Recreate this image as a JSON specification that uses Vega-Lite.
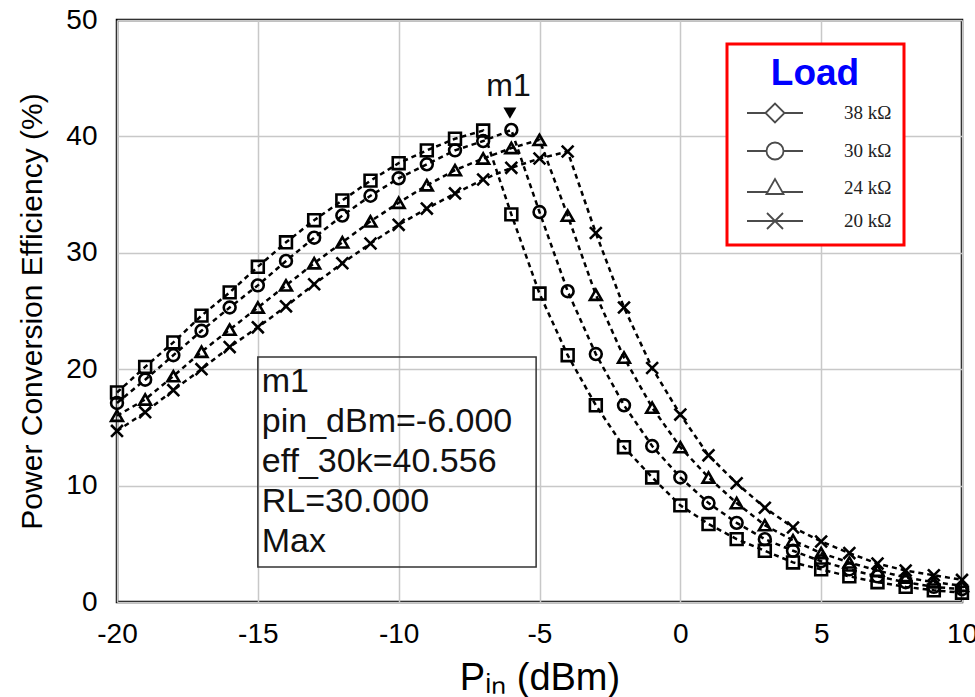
{
  "$schema": "https://vega.github.io/schema/vega-lite/v6.json",
  "autosize": {"type": "none"},
  "padding": {"left": 117, "top": 20, "right": 13, "bottom": 95},
  "width": 845,
  "height": 582,
  "background": "white",
  "config": {
    "view": {"stroke": "black", "strokeWidth": 2.5},
    "axis": {
      "grid": true, "gridColor": "#c8c8c8", "gridWidth": 1.5,
      "domain": false, "ticks": false,
      "labelFont": "Liberation Sans", "labelFontSize": 28, "labelColor": "black",
      "labelFlush": false, "labelOverlap": false,
      "labelExpr": "replace(datum.label, '−', '-')",
      "titleColor": "black", "titleFontWeight": "normal"
    },
    "legend": {"strokeWidth": 3}
  },
  "datasets": {
    "curves": [
      {"pin": -20, "eff": 18.0, "load": "38 kΩ"}, {"pin": -19, "eff": 20.2, "load": "38 kΩ"}, {"pin": -18, "eff": 22.3, "load": "38 kΩ"}, {"pin": -17, "eff": 24.6, "load": "38 kΩ"}, {"pin": -16, "eff": 26.6, "load": "38 kΩ"}, {"pin": -15, "eff": 28.8, "load": "38 kΩ"}, {"pin": -14, "eff": 30.9, "load": "38 kΩ"}, {"pin": -13, "eff": 32.8, "load": "38 kΩ"}, {"pin": -12, "eff": 34.5, "load": "38 kΩ"}, {"pin": -11, "eff": 36.2, "load": "38 kΩ"}, {"pin": -10, "eff": 37.7, "load": "38 kΩ"}, {"pin": -9, "eff": 38.8, "load": "38 kΩ"}, {"pin": -8, "eff": 39.8, "load": "38 kΩ"}, {"pin": -7, "eff": 40.5, "load": "38 kΩ"}, {"pin": -6, "eff": 33.3, "load": "38 kΩ"}, {"pin": -5, "eff": 26.5, "load": "38 kΩ"}, {"pin": -4, "eff": 21.2, "load": "38 kΩ"}, {"pin": -3, "eff": 16.9, "load": "38 kΩ"}, {"pin": -2, "eff": 13.3, "load": "38 kΩ"}, {"pin": -1, "eff": 10.7, "load": "38 kΩ"}, {"pin": 0, "eff": 8.3, "load": "38 kΩ"}, {"pin": 1, "eff": 6.7, "load": "38 kΩ"}, {"pin": 2, "eff": 5.4, "load": "38 kΩ"}, {"pin": 3, "eff": 4.4, "load": "38 kΩ"}, {"pin": 4, "eff": 3.4, "load": "38 kΩ"}, {"pin": 5, "eff": 2.8, "load": "38 kΩ"}, {"pin": 6, "eff": 2.2, "load": "38 kΩ"}, {"pin": 7, "eff": 1.7, "load": "38 kΩ"}, {"pin": 8, "eff": 1.3, "load": "38 kΩ"}, {"pin": 9, "eff": 1.0, "load": "38 kΩ"}, {"pin": 10, "eff": 0.8, "load": "38 kΩ"},
      {"pin": -20, "eff": 17.1, "load": "30 kΩ"}, {"pin": -19, "eff": 19.1, "load": "30 kΩ"}, {"pin": -18, "eff": 21.2, "load": "30 kΩ"}, {"pin": -17, "eff": 23.3, "load": "30 kΩ"}, {"pin": -16, "eff": 25.3, "load": "30 kΩ"}, {"pin": -15, "eff": 27.2, "load": "30 kΩ"}, {"pin": -14, "eff": 29.3, "load": "30 kΩ"}, {"pin": -13, "eff": 31.3, "load": "30 kΩ"}, {"pin": -12, "eff": 33.2, "load": "30 kΩ"}, {"pin": -11, "eff": 34.9, "load": "30 kΩ"}, {"pin": -10, "eff": 36.4, "load": "30 kΩ"}, {"pin": -9, "eff": 37.6, "load": "30 kΩ"}, {"pin": -8, "eff": 38.8, "load": "30 kΩ"}, {"pin": -7, "eff": 39.6, "load": "30 kΩ"}, {"pin": -6, "eff": 40.556, "load": "30 kΩ"}, {"pin": -5, "eff": 33.5, "load": "30 kΩ"}, {"pin": -4, "eff": 26.7, "load": "30 kΩ"}, {"pin": -3, "eff": 21.3, "load": "30 kΩ"}, {"pin": -2, "eff": 16.9, "load": "30 kΩ"}, {"pin": -1, "eff": 13.4, "load": "30 kΩ"}, {"pin": 0, "eff": 10.7, "load": "30 kΩ"}, {"pin": 1, "eff": 8.5, "load": "30 kΩ"}, {"pin": 2, "eff": 6.8, "load": "30 kΩ"}, {"pin": 3, "eff": 5.4, "load": "30 kΩ"}, {"pin": 4, "eff": 4.4, "load": "30 kΩ"}, {"pin": 5, "eff": 3.5, "load": "30 kΩ"}, {"pin": 6, "eff": 2.8, "load": "30 kΩ"}, {"pin": 7, "eff": 2.2, "load": "30 kΩ"}, {"pin": 8, "eff": 1.7, "load": "30 kΩ"}, {"pin": 9, "eff": 1.3, "load": "30 kΩ"}, {"pin": 10, "eff": 1.1, "load": "30 kΩ"},
      {"pin": -20, "eff": 16.0, "load": "24 kΩ"}, {"pin": -19, "eff": 17.4, "load": "24 kΩ"}, {"pin": -18, "eff": 19.4, "load": "24 kΩ"}, {"pin": -17, "eff": 21.5, "load": "24 kΩ"}, {"pin": -16, "eff": 23.4, "load": "24 kΩ"}, {"pin": -15, "eff": 25.3, "load": "24 kΩ"}, {"pin": -14, "eff": 27.2, "load": "24 kΩ"}, {"pin": -13, "eff": 29.1, "load": "24 kΩ"}, {"pin": -12, "eff": 30.9, "load": "24 kΩ"}, {"pin": -11, "eff": 32.7, "load": "24 kΩ"}, {"pin": -10, "eff": 34.3, "load": "24 kΩ"}, {"pin": -9, "eff": 35.8, "load": "24 kΩ"}, {"pin": -8, "eff": 37.1, "load": "24 kΩ"}, {"pin": -7, "eff": 38.1, "load": "24 kΩ"}, {"pin": -6, "eff": 39.0, "load": "24 kΩ"}, {"pin": -5, "eff": 39.7, "load": "24 kΩ"}, {"pin": -4, "eff": 33.2, "load": "24 kΩ"}, {"pin": -3, "eff": 26.4, "load": "24 kΩ"}, {"pin": -2, "eff": 21.0, "load": "24 kΩ"}, {"pin": -1, "eff": 16.7, "load": "24 kΩ"}, {"pin": 0, "eff": 13.3, "load": "24 kΩ"}, {"pin": 1, "eff": 10.7, "load": "24 kΩ"}, {"pin": 2, "eff": 8.5, "load": "24 kΩ"}, {"pin": 3, "eff": 6.6, "load": "24 kΩ"}, {"pin": 4, "eff": 5.3, "load": "24 kΩ"}, {"pin": 5, "eff": 4.2, "load": "24 kΩ"}, {"pin": 6, "eff": 3.4, "load": "24 kΩ"}, {"pin": 7, "eff": 2.7, "load": "24 kΩ"}, {"pin": 8, "eff": 2.1, "load": "24 kΩ"}, {"pin": 9, "eff": 1.7, "load": "24 kΩ"}, {"pin": 10, "eff": 1.4, "load": "24 kΩ"},
      {"pin": -20, "eff": 14.7, "load": "20 kΩ"}, {"pin": -19, "eff": 16.3, "load": "20 kΩ"}, {"pin": -18, "eff": 18.2, "load": "20 kΩ"}, {"pin": -17, "eff": 20.0, "load": "20 kΩ"}, {"pin": -16, "eff": 21.9, "load": "20 kΩ"}, {"pin": -15, "eff": 23.6, "load": "20 kΩ"}, {"pin": -14, "eff": 25.4, "load": "20 kΩ"}, {"pin": -13, "eff": 27.3, "load": "20 kΩ"}, {"pin": -12, "eff": 29.1, "load": "20 kΩ"}, {"pin": -11, "eff": 30.8, "load": "20 kΩ"}, {"pin": -10, "eff": 32.4, "load": "20 kΩ"}, {"pin": -9, "eff": 33.8, "load": "20 kΩ"}, {"pin": -8, "eff": 35.1, "load": "20 kΩ"}, {"pin": -7, "eff": 36.3, "load": "20 kΩ"}, {"pin": -6, "eff": 37.3, "load": "20 kΩ"}, {"pin": -5, "eff": 38.1, "load": "20 kΩ"}, {"pin": -4, "eff": 38.7, "load": "20 kΩ"}, {"pin": -3, "eff": 31.7, "load": "20 kΩ"}, {"pin": -2, "eff": 25.3, "load": "20 kΩ"}, {"pin": -1, "eff": 20.1, "load": "20 kΩ"}, {"pin": 0, "eff": 16.1, "load": "20 kΩ"}, {"pin": 1, "eff": 12.6, "load": "20 kΩ"}, {"pin": 2, "eff": 10.2, "load": "20 kΩ"}, {"pin": 3, "eff": 8.1, "load": "20 kΩ"}, {"pin": 4, "eff": 6.4, "load": "20 kΩ"}, {"pin": 5, "eff": 5.2, "load": "20 kΩ"}, {"pin": 6, "eff": 4.2, "load": "20 kΩ"}, {"pin": 7, "eff": 3.3, "load": "20 kΩ"}, {"pin": 8, "eff": 2.7, "load": "20 kΩ"}, {"pin": 9, "eff": 2.3, "load": "20 kΩ"}, {"pin": 10, "eff": 1.9, "load": "20 kΩ"}
    ]
  },
  "data": {"name": "curves"},
  "encoding": {
    "x": {
      "field": "pin", "type": "quantitative",
      "scale": {"domain": [-20, 10], "nice": false, "zero": false},
      "axis": {
        "values": [-20, -15, -10, -5, 0, 5, 10],
        "labelPadding": 40, "labelBaseline": "alphabetic",
        "title": "Pᵢₙ (dBm)", "titleFont": "Liberation Sans", "titleFontSize": 38,
        "titleY": 87, "titleBaseline": "alphabetic"
      }
    },
    "y": {
      "field": "eff", "type": "quantitative",
      "scale": {"domain": [0, 50], "nice": false},
      "axis": {
        "values": [0, 10, 20, 30, 40, 50],
        "labelPadding": 20,
        "title": "Power Conversion Efficiency (%)", "titleFont": "Liberation Sans", "titleFontSize": 30,
        "titlePadding": 18
      }
    }
  },
  "layer": [
    {
      "transform": [{"filter": "datum.pin == -6 && datum.load == '30 kΩ'"}],
      "mark": {"type": "rect", "fill": null, "stroke": "#333333", "strokeWidth": 1.5},
      "encoding": {
        "x": {"datum": -15}, "x2": {"datum": -5.12},
        "y": {"datum": 21.05}, "y2": {"datum": 3.0}
      }
    },
    {
      "transform": [{"filter": "datum.pin == -6 && datum.load == '30 kΩ'"}],
      "mark": {"type": "text", "align": "left", "baseline": "alphabetic", "font": "Liberation Sans", "fontSize": 34, "lineHeight": 40, "fill": "#111111"},
      "encoding": {
        "x": {"datum": -14.86}, "y": {"datum": 18.04},
        "text": {"value": ["m1", "pin_dBm=-6.000", "eff_30k=40.556", "RL=30.000", "Max"]}
      }
    },
    {
      "mark": {"type": "line", "color": "black", "strokeWidth": 2.5, "strokeDash": [5, 4]},
      "encoding": {"detail": {"field": "load"}}
    },
    {
      "mark": {"type": "point", "filled": false, "color": "black", "strokeWidth": 2.6, "size": 140, "opacity": 1},
      "encoding": {
        "shape": {
          "field": "load", "type": "nominal",
          "scale": {"domain": ["38 kΩ", "30 kΩ", "24 kΩ", "20 kΩ"], "range": ["square", "circle", "triangle-up", "M-1,-1L1,1M-1,1L1,-1"]},
          "legend": null
        }
      }
    },
    {
      "transform": [{"filter": "datum.pin == -20"}],
      "mark": {"type": "point", "filled": false, "color": "black", "size": 0},
      "encoding": {
        "shape": {
          "field": "load", "type": "nominal",
          "scale": {"domain": ["38 kΩ", "30 kΩ", "24 kΩ", "20 kΩ"], "range": [
            "M-2.8,0H-0.95M0.95,0H2.8M-0.95,0L0,-0.95L0.95,0L0,0.95Z",
            "M-2.8,0H-0.85M0.85,0H2.8M0.85,0A0.85,0.85 0 1,1 -0.85,0A0.85,0.85 0 1,1 0.85,0Z",
            "M-2.8,0.4H-0.74M0.74,0.4H2.8M-0.85,0.6L0,-0.9L0.85,0.6Z",
            "M-2.8,0H2.8M-0.8,-0.8L0.8,0.8M-0.8,0.8L0.8,-0.8"
          ]},
          "legend": {
            "title": "Load", "orient": "none", "legendX": 610, "legendY": 24,
            "titleFont": "Liberation Sans", "titleFontSize": 37, "titleFontWeight": "bold", "titleColor": "#0000ff",
            "titleAnchor": "middle", "titlePadding": 9,
            "labelFont": "Liberation Serif", "labelFontSize": 19, "labelColor": "#222222",
            "labelOffset": 58, "symbolOffset": 25, "symbolSize": 400, "symbolStrokeWidth": 1.8,
            "symbolStrokeColor": "black", "symbolFillColor": "white", "rowPadding": 11,
            "padding": 12, "strokeColor": "#ff0000", "fillColor": "white", "cornerRadius": 0
          }
        }
      }
    },
    {
      "transform": [{"filter": "datum.pin == -6 && datum.load == '30 kΩ'"}],
      "mark": {"type": "point", "shape": "triangle-down", "filled": true, "color": "black", "size": 170, "opacity": 1},
      "encoding": {"x": {"datum": -6.05}, "y": {"datum": 42.0}}
    },
    {
      "transform": [{"filter": "datum.pin == -6 && datum.load == '30 kΩ'"}],
      "mark": {"type": "text", "align": "center", "baseline": "alphabetic", "font": "Liberation Sans", "fontSize": 32, "fill": "#111111"},
      "encoding": {"x": {"datum": -6.1}, "y": {"datum": 43.5}, "text": {"value": "m1"}}
    }
  ],
  "resolve": {"scale": {"shape": "independent"}, "legend": {"shape": "independent"}}
}
